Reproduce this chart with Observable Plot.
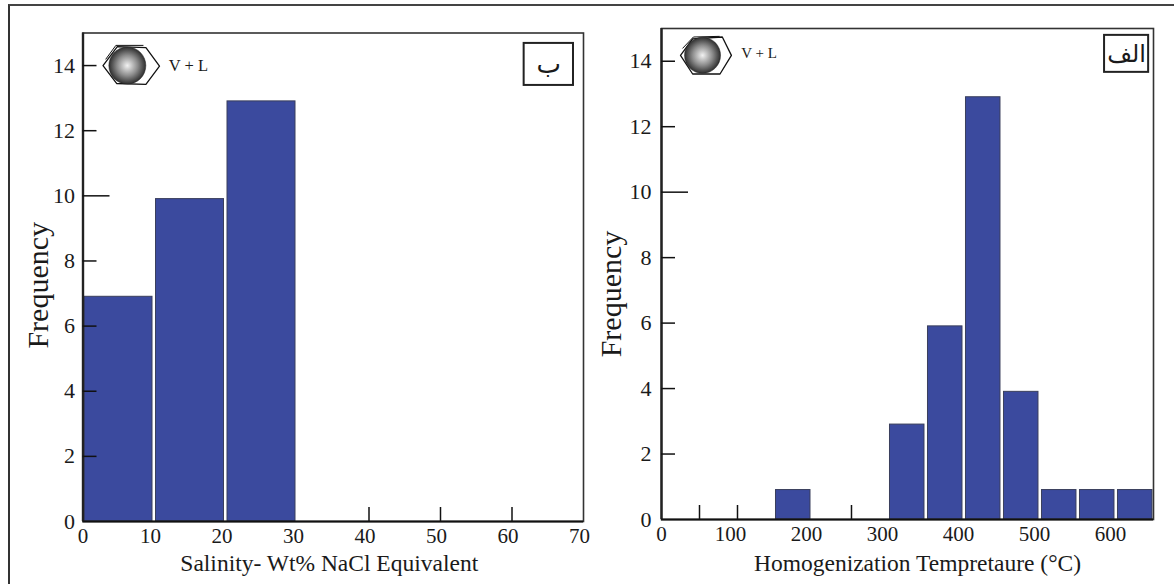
<!DOCTYPE html>
<html>
<head>
<meta charset="utf-8">
<script src="https://cdn.jsdelivr.net/npm/d3@7"></script>
<script src="https://cdn.jsdelivr.net/npm/@observablehq/plot@0.6"></script>
<style>
html,body{margin:0;padding:0;background:#fff;width:1174px;height:584px;overflow:hidden}
#outer{position:absolute;left:8px;top:4px;width:1166px;height:580px;border-top:2px solid #444;border-left:2px solid #333;box-sizing:border-box}
.panel{position:absolute;top:0}
</style>
</head>
<body>
<div id="outer"></div>
<div id="a" class="panel" style="left:0"></div>
<div id="b" class="panel" style="left:590px"></div>
<script>
const frequencyTicks = [0, 2, 4, 6, 8, 10, 12, 14];
const tickFrequencies = [2, 4, 6, 8, 12, 14];
const yLabel = "Frequency";
const inclusionLabel = "V + L";

const salinityEdges1 = [0, 10, 20];
const salinityEdges2 = [10, 20, 30];
const salinityCounts = [6.9, 9.9, 12.9];
const salinityTickLabels = [10, 20, 30, 40, 50, 60, 70];
const salinityInnerTicks = [40, 50, 60];
const salinityTitle = "Salinity- Wt% NaCl Equivalent";
const salinityTag = "ب";
const salinityHexX = [2.8, 4.8, 8.8, 10.7, 8.8, 4.7, 2.8];
const salinityHexY = [14.0, 14.58, 14.55, 13.98, 13.42, 13.45, 14.0];
const salinityHexX2 = [3.2, 4.6, 8.4];
const salinityHexY2 = [14.2, 14.62, 14.62];

const temperatureEdges1 = [150, 300, 350, 400, 450, 500, 550, 600];
const temperatureEdges2 = [200, 350, 400, 450, 500, 550, 600, 650];
const temperatureCounts = [0.9, 2.9, 5.9, 12.9, 3.9, 0.9, 0.9, 0.9];
const temperatureTickLabels = [100, 200, 300, 400, 500, 600];
const temperatureInnerTicks = [50, 100, 250];
const temperatureTitle = "Homogenization Tempretaure (°C)";
const temperatureTag = "الف";
const temperatureHexX = [25, 41, 80, 92, 77, 41, 25];
const temperatureHexY = [14.18, 14.68, 14.74, 14.18, 13.61, 13.61, 14.18];
const temperatureHexX2 = [28, 42, 76];
const temperatureHexY2 = [14.4, 14.74, 14.76];

function defs(id) {
  return () => {
    const d = d3.create("svg:defs");
    const g = d.append("radialGradient").attr("id", id);
    g.append("stop").attr("offset", "0%").attr("stop-color", "#f2f2f2");
    g.append("stop").attr("offset", "55%").attr("stop-color", "#8d8d8d");
    g.append("stop").attr("offset", "100%").attr("stop-color", "#2e2e2e");
    return d.node();
  };
}

function panel(o) {
  const reach = (o.domain[1] / (o.width - o.marginLeft - o.marginRight));
  const tickW = 14 * reach, longW = 27 * reach;
  const tickH = 14 / ((o.height - o.marginTop - o.marginBottom) / 15);
  return Plot.plot({
    width: o.width, height: o.height,
    marginLeft: o.marginLeft, marginRight: o.marginRight,
    marginTop: o.marginTop, marginBottom: o.marginBottom,
    x: {domain: o.domain, axis: null},
    y: {domain: [0, 15], axis: null},
    style: {fontFamily: "'Liberation Serif', serif", fontSize: "20px", color: "#1a1a1a", background: "transparent", overflow: "visible"},
    marks: [
      defs(o.id),
      Plot.ruleX(o.inner, {y1: 0, y2: tickH, stroke: "#111", strokeWidth: 1.5}),
      Plot.rectY(o.counts, {
        x1: (d, i) => o.e1[i], x2: (d, i) => o.e2[i], y1: 0, y2: d => d,
        fill: "#3b4a9e", stroke: "#3a3f5c", strokeWidth: 1, insetLeft: o.insetL, insetRight: o.insetR
      }),
      Plot.frame({stroke: "#333", strokeWidth: 1.6}),
      Plot.ruleX([0], {stroke: "#222", strokeWidth: 2.4}),
      Plot.ruleY([0], {stroke: "#111", strokeWidth: 2}),
      Plot.ruleY(tickFrequencies, {x1: 0, x2: tickW, stroke: "#111", strokeWidth: 1.5}),
      Plot.ruleY([10], {x1: 0, x2: longW, stroke: "#111", strokeWidth: 1.5}),
      Plot.axisY({ticks: frequencyTicks, tickSize: 0, tickPadding: o.yPad, fontSize: 22, label: null}),
      Plot.axisX({ticks: [0], tickSize: 0, tickPadding: 7, fontSize: 21, label: null}),
      Plot.axisX({ticks: o.labels, tickSize: 0, tickPadding: 7, dx: o.labelDx, fontSize: 21, label: null}),
      Plot.text([yLabel], {frameAnchor: "left", textAnchor: "middle", rotate: -90, dx: o.yTitleDx, dy: o.yTitleDy, fontSize: 30}),
      Plot.text([o.title], {frameAnchor: "bottom", dx: o.xTitleDx, dy: o.xTitleDy, fontSize: 23.5}),
      Plot.line(o.hexX, {x: d => d, y: (d, i) => o.hexY[i], stroke: "#111", strokeWidth: 1.3}),
      Plot.line(o.hexX2, {x: d => d, y: (d, i) => o.hexY2[i], stroke: "#111", strokeWidth: 1}),
      Plot.dot([o.sphere], {x: d => d[0], y: d => d[1], r: o.r, fill: `url(#${o.id})`, stroke: "#222", strokeWidth: 0.5}),
      Plot.text([inclusionLabel], {x: o.vl[0], y: o.vl[1], textAnchor: "start", fontSize: o.vlSize}),
      Plot.rect([0], {x1: o.box[0], x2: o.box[1], y1: o.box[2], y2: o.box[3], fill: "#fff", stroke: "#222", strokeWidth: 2}),
      Plot.text([o.tag], {x: (o.box[0] + o.box[1]) / 2, y: (o.box[2] + o.box[3]) / 2, fontSize: o.tagSize, fontFamily: "'DejaVu Sans', sans-serif"})
    ]
  });
}

document.getElementById("a").append(panel({
  id: "sphA", width: 590, height: 584, marginLeft: 82.5, marginRight: 7, marginTop: 32.5, marginBottom: 63,
  domain: [0, 70], e1: salinityEdges1, e2: salinityEdges2, counts: salinityCounts, insetL: 1.5, insetR: 2,
  inner: salinityInnerTicks, labels: salinityTickLabels, labelDx: -4, yPad: 8, r: 18.5, vlSize: 16.5, tagSize: 26,
  title: salinityTitle, tag: salinityTag, xTitleDx: -4, xTitleDy: 49, yTitleDx: -45, yTitleDy: 8,
  hexX: salinityHexX, hexY: salinityHexY, hexX2: salinityHexX2, hexY2: salinityHexY2,
  sphere: [6.2, 14], vl: [12, 14], box: [61.7, 68.6, 13.39, 14.68]
}));
document.getElementById("b").append(panel({
  id: "sphB", width: 584, height: 584, marginLeft: 71, marginRight: 21, marginTop: 28, marginBottom: 65,
  domain: [0, 647.4], e1: temperatureEdges1, e2: temperatureEdges2, counts: temperatureCounts, insetL: 0.5, insetR: 3,
  inner: temperatureInnerTicks, labels: temperatureTickLabels, labelDx: -7, yPad: 10, r: 18, vlSize: 15, tagSize: 24,
  title: temperatureTitle, tag: temperatureTag, xTitleDx: 10, xTitleDy: 51, yTitleDx: -50, yTitleDy: 20,
  hexX: temperatureHexX, hexY: temperatureHexY, hexX2: temperatureHexX2, hexY2: temperatureHexY2,
  sphere: [54, 14.18], vl: [105, 14.24], box: [583, 641, 13.66, 14.79]
}));
</script>
</body>
</html>
